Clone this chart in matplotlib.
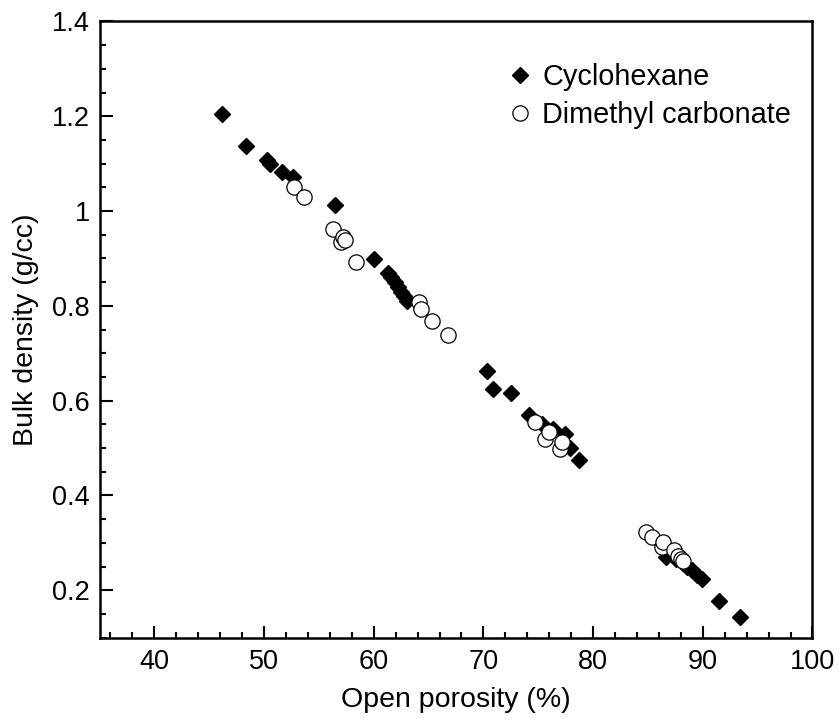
import matplotlib
matplotlib.use("Agg")
import matplotlib.pyplot as plt
from matplotlib.ticker import MultipleLocator

plt.rcParams['font.family'] = ['Liberation Sans', 'DejaVu Sans']

# Cyclohexane (filled diamonds)
cyclo_porosity = [46.2, 48.4, 50.3, 50.5, 51.6, 52.6, 56.5, 60.0,
                  61.3, 61.6, 61.9, 62.2, 62.5, 62.8, 63.0,
                  70.3, 70.9, 72.5, 74.2, 75.3, 76.3, 77.4, 77.9, 78.7,
                  86.6, 87.6, 88.2, 88.6, 89.0, 89.5, 89.9, 91.5, 93.4]
cyclo_density = [1.205, 1.137, 1.107, 1.100, 1.083, 1.071, 1.013, 0.898,
                 0.870, 0.860, 0.850, 0.840, 0.830, 0.820, 0.810,
                 0.663, 0.625, 0.617, 0.570, 0.550, 0.540, 0.530, 0.500, 0.475,
                 0.270, 0.265, 0.258, 0.250, 0.243, 0.232, 0.223, 0.178, 0.143]

# Dimethyl carbonate (open circles)
dmc_porosity = [52.75, 53.6, 56.3, 57.0, 57.2, 57.4, 58.4,
                64.1, 64.3, 65.3, 66.8,
                74.7, 75.6, 75.95, 77.0, 77.2,
                84.8, 85.4, 86.3, 86.4, 87.35, 87.7, 88.0, 88.2]
dmc_density = [1.050, 1.030, 0.963, 0.935, 0.945, 0.940, 0.893,
               0.808, 0.793, 0.768, 0.739,
               0.555, 0.520, 0.534, 0.499, 0.513,
               0.322, 0.312, 0.291, 0.301, 0.284, 0.273, 0.266, 0.262]

fig = plt.figure(figsize=(8.39, 7.19), dpi=100)
ax = fig.add_axes([0.1186, 0.1131, 0.8498, 0.857])

ax.plot(cyclo_porosity, cyclo_density, linestyle='none', marker='D',
        markersize=8.3, color='black', label='Cyclohexane')
ax.plot(dmc_porosity, dmc_density, linestyle='none', marker='o',
        markersize=11, markerfacecolor='white', markeredgecolor='black',
        markeredgewidth=0.9, label='Dimethyl carbonate')

ax.set_xlim(35, 100)
ax.set_ylim(0.1, 1.4)
ax.xaxis.set_major_locator(MultipleLocator(10))
ax.xaxis.set_minor_locator(MultipleLocator(2))
ax.yaxis.set_major_locator(MultipleLocator(0.2))
ax.yaxis.set_minor_locator(MultipleLocator(0.05))
ax.set_yticks([0.2, 0.4, 0.6, 0.8, 1.0, 1.2, 1.4])
ax.set_yticklabels(['0.2', '0.4', '0.6', '0.8', '1', '1.2', '1.4'])
ax.set_xticks([40, 50, 60, 70, 80, 90, 100])

ax.tick_params(which='both', direction='in', width=1.5, labelsize=19.5)
ax.tick_params(which='major', length=9)
ax.tick_params(which='minor', length=4.5)
ax.tick_params(axis='x', pad=8)
ax.tick_params(axis='y', pad=7)
for sp in ax.spines.values():
    sp.set_linewidth(1.8)

ax.set_xlabel('Open porosity (%)', fontsize=20.5, labelpad=9)
ax.set_ylabel('Bulk density (g/cc)', fontsize=20.5, labelpad=9)

ax.legend(loc='upper left', bbox_to_anchor=(0.538, 0.975), frameon=False,
          fontsize=20.8, handlelength=0.75, handletextpad=0.4, labelspacing=0.35,
          numpoints=1)

fig.savefig('out.png', dpi=100)
